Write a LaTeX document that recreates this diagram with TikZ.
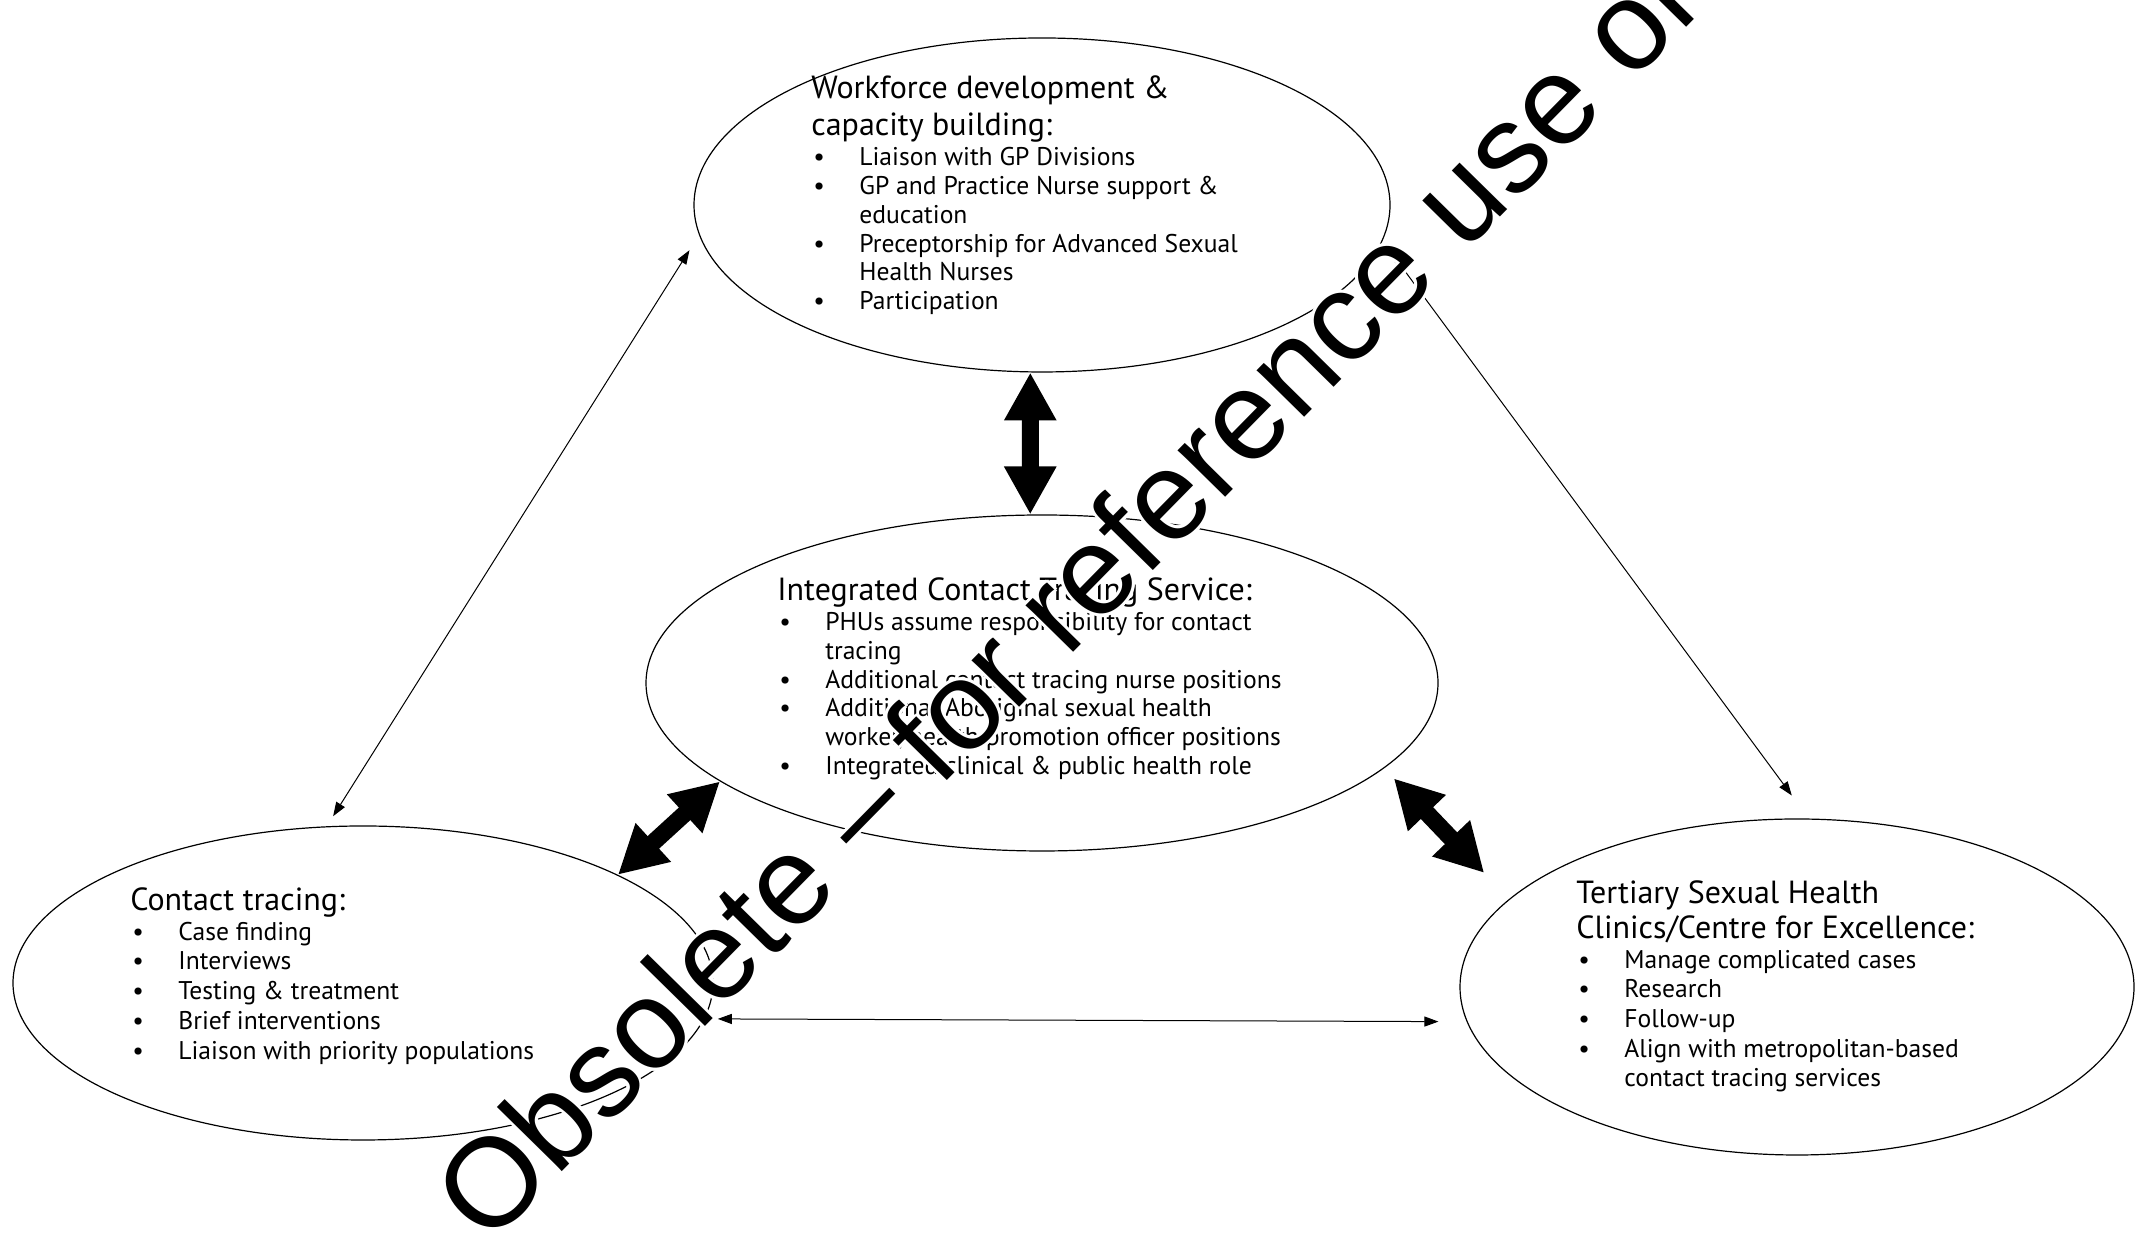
\documentclass[tikz,border=0pt]{standalone}
\usepackage{fontspec}
\setmainfont{PT Sans}
\newfontfamily\stampfont{Liberation Sans}
\usetikzlibrary{shapes.geometric,arrows.meta}

\newcommand{\ttl}{\fontsize{16}{17.75}\selectfont}
\newcommand{\bitem}[1]{\makebox[24pt][l]{\hspace{1pt}\textbullet}#1}
\newcommand{\bcont}[1]{\hspace*{24pt}#1}

\begin{document}
\begin{tikzpicture}[x=0.5pt, y=0.5pt,
    blob/.style = {draw, ellipse, line width=0.6pt, inner sep=0pt},
    txt/.style = {align=left, anchor=north west, inner sep=0pt, font=\fontsize{12.8}{14.45}\selectfont},
    looser/.style = {font=\fontsize{12.8}{14.85}\selectfont},
    thinarrow/.style = {{Triangle[length=7pt,width=5pt]}-{Triangle[length=7pt,width=5pt]}, line width=0.5pt},
    fatarrow/.style = {{Triangle[length=24pt,width=24.5pt]}-{Triangle[length=24pt,width=24.5pt]}, line width=8.5pt},
    stamp/.style = {anchor=base west, inner sep=0pt, rotate=45.5, font=\stampfont\fontsize{63}{63}\selectfont}]
    \useasboundingbox (0,0) rectangle (2141,1245);
    \clip (0,0) rectangle (2141,1245);

    % the four circles
    \node[blob, minimum width=348pt, minimum height=167pt] (wf) at (1042,1040) {};
    \node[blob, minimum width=396pt, minimum height=168pt] (ict) at (1042,562) {};
    \node[blob, minimum width=350pt, minimum height=157pt] (ct) at (363,262) {};
    \node[blob, minimum width=337pt, minimum height=168pt] (tert) at (1797,258) {};

    \node[txt] (wftext) at (811,1170) {{\ttl Workforce development \&}\\[3pt]
        {\ttl capacity building:}\\[0.6pt]
        \bitem{Liaison with GP Divisions}\\
        \bitem{GP and Practice Nurse support \&}\\
        \bcont{education}\\
        \bitem{Preceptorship for Advanced Sexual}\\
        \bcont{Health Nurses}\\
        \bitem{Participation}};
    \node[txt] (icttext) at (777,668) {{\ttl Integrated Contact Tracing Service:}\\[0.6pt]
        \bitem{PHUs assume responsibility for contact}\\
        \bcont{tracing}\\
        \bitem{Additional contact tracing nurse positions}\\
        \bitem{Additional Aboriginal sexual health}\\
        \bcont{worker/health promotion officer positions}\\
        \bitem{Integrated clinical \& public health role}};
    \node[txt, looser] (cttext) at (130,358) {{\ttl Contact tracing:}\\[0.2pt]
        \bitem{Case finding}\\
        \bitem{Interviews}\\
        \bitem{Testing \& treatment}\\
        \bitem{Brief interventions}\\
        \bitem{Liaison with priority populations}};
    \node[txt, looser] (terttext) at (1576,365) {{\ttl Tertiary Sexual Health}\\[2.6pt]
        {\ttl Clinics/Centre for Excellence:}\\[0.2pt]
        \bitem{Manage complicated cases}\\
        \bitem{Research}\\
        \bitem{Follow-up}\\
        \bitem{Align with metropolitan-based}\\
        \bcont{contact tracing services}};

    % links
    \draw[thinarrow, shorten <=9pt, shorten >=5.9pt] (wf.185) -- (ct.103);
    \draw[thinarrow, shorten <=8.4pt, shorten >=14.3pt] (wf.354) -- (tert.86);
    \draw[thinarrow, shorten <=6.7pt, shorten >=14.1pt] (ct.354) -- (tert.186);
    \draw[fatarrow] (wf.266) -- (ict.94);
    \draw[fatarrow] (ict.197) -- (ct.23);
    \draw[fatarrow, shorten <=7pt, shorten >=18pt] (ict.346) -- (tert.163);

    % watermark
    \foreach \a in {0,30,...,330}
        \node[stamp, text=white, shift={(\a:3)}] (halo-\a) at (488,-3) {Obsolete – for reference use only};
    \node[stamp] (obsolete) at (488,-3) {Obsolete – for reference use only};
\end{tikzpicture}
\end{document}
